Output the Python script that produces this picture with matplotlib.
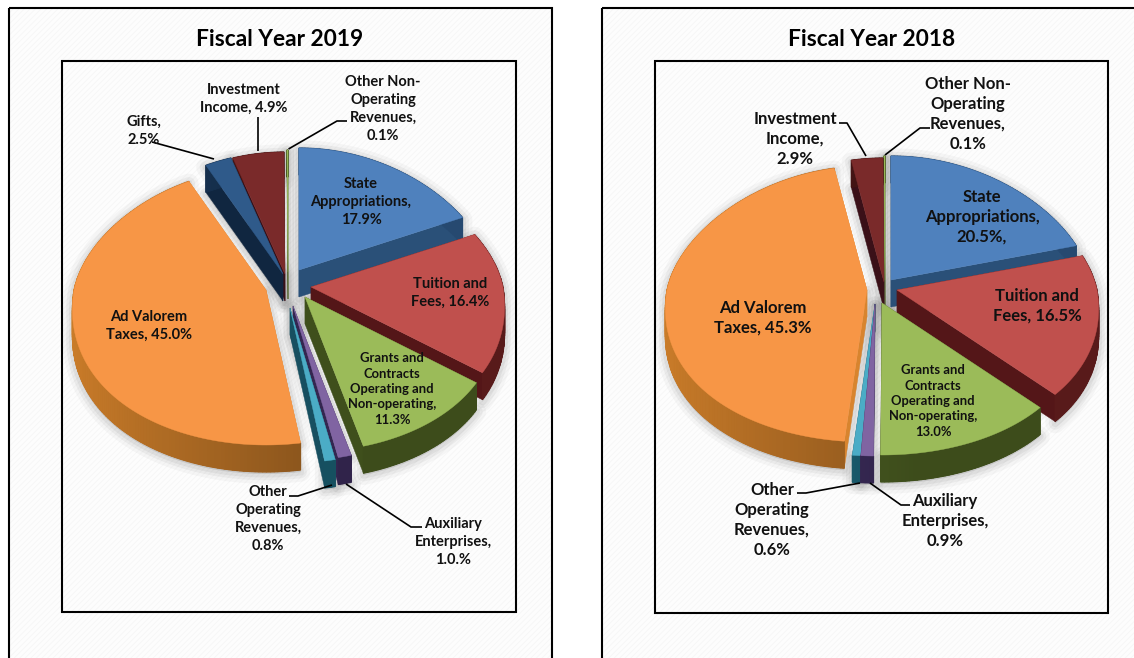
import numpy as np
import matplotlib
matplotlib.use('Agg')
import matplotlib.pyplot as plt
from matplotlib.colors import to_rgb
from matplotlib.patches import Polygon, Rectangle

plt.rcParams['font.family'] = ['Lato', 'DejaVu Sans']
plt.rcParams['hatch.linewidth'] = 0.5

# Data
names_2019 = ['State', 'Tuition', 'Grants', 'Auxiliary', 'OtherOp', 'AdValorem', 'Gifts', 'Investment', 'OtherNon']
values_2019 = [17.9, 16.4, 11.3, 1.0, 0.8, 45.0, 2.5, 4.9, 0.1]
labels_2019 = ['State\nAppropriations,\n17.9%', 'Tuition and\nFees, 16.4%',
               'Grants and\nContracts\nOperating and\nNon-operating,\n11.3%',
               'Auxiliary\nEnterprises,\n1.0.%', 'Other\nOperating\nRevenues,\n0.8%',
               'Ad Valorem\nTaxes, 45.0%', 'Gifts,\n2.5%', 'Investment\nIncome, 4.9%',
               'Other Non-\nOperating\nRevenues,\n0.1%']

names_2018 = ['State', 'Tuition', 'Grants', 'Auxiliary', 'OtherOp', 'AdValorem', 'Investment', 'OtherNon']
values_2018 = [20.5, 16.5, 13.0, 0.9, 0.6, 45.3, 2.9, 0.1]
labels_2018 = ['State\nAppropriations,\n20.5%,', 'Tuition and\nFees, 16.5%',
               'Grants and\nContracts\nOperating and\nNon-operating,\n13.0%',
               'Auxiliary\nEnterprises,\n0.9%', 'Other\nOperating\nRevenues,\n0.6%',
               'Ad Valorem\nTaxes, 45.3%', 'Investment\nIncome,\n2.9%',
               'Other Non-\nOperating\nRevenues,\n0.1%']

# Colores: cara superior, borde, cara radial
colors = {
    'State': ('#4f81bd', '#2f5b8c', '#2a5078'),
    'Tuition': ('#c0504d', '#6e2020', '#541618'),
    'Grants': ('#9bbb59', '#4c5f22', '#3f4f1c'),
    'Auxiliary': ('#8064a2', '#3c2c5c', '#342650'),
    'OtherOp': ('#4bacc6', '#1c6478', '#174f60'),
    'AdValorem': ('#f79646', '#b06c24', '#d8842e'),
    'Gifts': ('#2f5a8a', '#16304e', '#102640'),
    'Investment': ('#7a2a2a', '#4a1616', '#3a1018'),
    'OtherNon': ('#9bbb59', '#4c5f22', '#4c5f22'),
}

# Desplazamiento de cada porcion (px)
pull_2019 = {'State': (14, -22), 'Tuition': (26, -5), 'Grants': (20, 5), 'Auxiliary': (8, 14),
             'OtherOp': (5, 16), 'AdValorem': (-19, -2), 'Gifts': (-2, -18), 'Investment': (0, -18),
             'OtherNon': (3, -20)}
pull_2018 = {'State': (16, -12), 'Tuition': (22, -2), 'Grants': (7, 11), 'Auxiliary': (0, 12),
             'OtherOp': (0, 12), 'AdValorem': (-8, -2), 'Investment': (9, -10), 'OtherNon': (10, -12)}

# Posicion de etiquetas
pos_2019 = {'State': (361, 202), 'Tuition': (450, 293), 'Grants': (392, 389), 'Auxiliary': (453, 542),
            'OtherOp': (268, 519), 'AdValorem': (149, 326), 'Gifts': (144, 131), 'Investment': (244, 99),
            'OtherNon': (383, 109)}
pos_2018 = {'State': (982, 217), 'Tuition': (1037, 306), 'Grants': (933, 401), 'Auxiliary': (945, 521),
            'OtherOp': (772, 520), 'AdValorem': (763, 318), 'Investment': (795, 139), 'OtherNon': (968, 114)}

leaders_2019 = [[(152, 142), (214, 159)], [(258, 117), (258, 151)],
                [(347, 121), (337, 121), (288.5, 149)], [(289, 496), (298, 496), (332, 485)],
                [(422, 527), (411, 527), (346, 484)]]
leaders_2018 = [[(839, 123), (847, 123), (866, 156)], [(930, 128), (920, 128), (885, 155)],
                [(797, 493), (806, 493), (860, 483)], [(910, 505), (901, 505), (870, 483)]]

THICK = 27


def project(apex, theta, geo):
    # punto del borde exterior visto con algo de perspectiva
    u, v = np.sin(theta), np.cos(theta)
    rx = geo['rx'] - geo['rx_slope'] * v
    ry = np.where(v > 0, geo['rb'], geo['rf'])
    return np.column_stack([apex[0] + rx * u, apex[1] - ry * v])


def shade(color, f):
    return tuple(min(1, c * f) for c in to_rgb(color))


def draw_pie(ax, names, values, pulls, center, geo):
    total = sum(values)
    edges = np.concatenate([[0], np.cumsum(values)]) / total * 2 * np.pi
    slices = []
    for i, name in enumerate(names):
        a0, a1 = edges[i], edges[i + 1]
        apex = (center[0] + pulls[name][0], center[1] + pulls[name][1])
        th = np.linspace(a0, a1, max(4, int(np.degrees(a1 - a0))))
        slices.append((np.cos((a0 + a1) / 2), name, apex, th))

    # sombra suave
    for _, name, apex, th in slices:
        rim = project(apex, th, geo)
        outline = np.vstack([[apex], rim, rim[::-1] + [0, THICK], [(apex[0], apex[1] + THICK)]])
        for lw, al in [(14, 0.06), (9, 0.09), (5, 0.11)]:
            ax.add_patch(Polygon(outline + [0, 2], closed=True, fc='#808080', ec='#808080',
                                 lw=lw, alpha=al, zorder=2, joinstyle='round'))

    # de atras hacia adelante
    z = 3
    for _, name, apex, th in sorted(slices, key=lambda s: -s[0]):
        top, band, radial = colors[name]
        rim = project(apex, th, geo)
        low = rim + [0, THICK]
        apex_low = (apex[0], apex[1] + THICK)
        for k in (0, -1):
            ax.add_patch(Polygon([apex, rim[k], low[k], apex_low], closed=True, fc=radial, ec=radial,
                                 lw=0.3, zorder=z))
        # banda entera de base y luego tramos con degradado encima
        ax.add_patch(Polygon(np.vstack([rim, low[::-1]]), closed=True, fc=band, ec=band, lw=0.3, zorder=z))
        for j in range(len(th) - 1):
            f = max(0.8, 1.15 - 0.3 * (np.sin(th[j]) + 1))
            c = shade(band, f)
            ax.add_patch(Polygon([rim[j], rim[j + 1], low[j + 1], low[j]], closed=True, fc=c, ec=c,
                                 lw=0.8, zorder=z))
        ax.add_patch(Polygon(np.vstack([[apex], rim]), closed=True, fc=top, ec=top, lw=0.3, zorder=z))
        z += 1


def draw_panel(ax, box, inner, title, title_x):
    x0, y0, x1, y1 = box
    ax.add_patch(Rectangle((x0, y0), x1 - x0, y1 - y0, fc='#fdfdfd', ec='#f5f5f5', lw=0,
                           hatch='//////', zorder=0))
    ax.add_patch(Rectangle((x0, y0), x1 - x0, y1 - y0, fc='none', ec='black', lw=1.5, zorder=1))
    ix0, iy0, ix1, iy1 = inner
    ax.add_patch(Rectangle((ix0, iy0), ix1 - ix0, iy1 - iy0, fc='none', ec='black', lw=1.5, zorder=1))
    ax.text(title_x, 40, title, ha='center', va='center', fontsize=16.4, fontweight='bold', zorder=20)


def draw_labels(ax, names, labels, positions, leaders, size, spacing):
    for pts in leaders:
        pts = np.array(pts)
        ax.plot(pts[:, 0], pts[:, 1], color='black', lw=1.2, zorder=18, solid_capstyle='butt')
    for name, lab in zip(names, labels):
        x, y = positions[name]
        small = name == 'Grants'
        ax.text(x, y, lab, ha='center', va='center', fontsize=9.4 if small else size,
                fontweight='bold', linespacing=1.33 if small else spacing, color='#111111', zorder=19)


fig = plt.figure(figsize=(11.34, 6.58), dpi=100)
ax = fig.add_axes([0, 0, 1, 1])
ax.set_xlim(0, 1134)
ax.set_ylim(658, 0)
ax.axis('off')

draw_panel(ax, (8.5, 7.5, 552, 670), (61.5, 60.5, 516, 612), 'Fiscal Year 2019', 280)
draw_panel(ax, (601.5, 7.5, 1150, 670), (654.5, 60.5, 1108, 613), 'Fiscal Year 2018', 872)

geo_2019 = {'rx': 192, 'rx_slope': 25, 'rb': 122, 'rf': 155}
geo_2018 = {'rx': 200, 'rx_slope': 26, 'rb': 124, 'rf': 152}
draw_pie(ax, names_2019, values_2019, pull_2019, (285, 292), geo_2019)
draw_pie(ax, names_2018, values_2018, pull_2018, (875, 292), geo_2018)

draw_labels(ax, names_2019, labels_2019, pos_2019, leaders_2019, 10.5, 1.38)
draw_labels(ax, names_2018, labels_2018, pos_2018, leaders_2018, 12, 1.3)

fig.savefig('out.png', dpi=100)
